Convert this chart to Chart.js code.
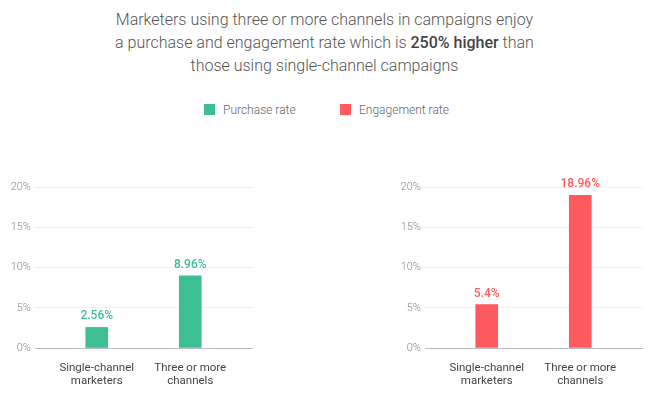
<!DOCTYPE html>
<html>
<head>
<meta charset="utf-8">
<script src="https://cdn.jsdelivr.net/npm/chart.js@4"></script>
<style>
  body { margin: 0; background: #fff; font-family: Roboto, sans-serif; }
  #wrap { position: relative; width: 649px; height: 396px; overflow: hidden; }
  #title { position: absolute; left: 0; top: 8px; width: 649px; text-align: center;
           font-size: 16px; font-weight: 300; line-height: 23px; color: #555; }
  #title b { font-weight: 500; color: #444; }
  #legend { position: absolute; top: 102px; left: 0; width: 649px; font-size: 12px;
            font-weight: 300; color: #666; }
  .item { position: absolute; top: 0; white-space: nowrap; line-height: 16px; }
  .sw { display: inline-block; width: 11px; height: 11px; vertical-align: -1px; margin-right: 8px; }
  canvas { position: absolute; }
</style>
</head>
<body>
<div id="wrap">
  <div id="title">Marketers using three or more channels in campaigns enjoy<br>a purchase and engagement rate which is <b>250% higher</b> than<br>those using single-channel campaigns</div>
  <div id="legend">
    <div class="item" style="left:204px"><span class="sw" style="background:#3dbf92"></span>Purchase rate</div>
    <div class="item" style="left:340px"><span class="sw" style="background:#ff5a5f"></span>Engagement rate</div>
  </div>
  <canvas id="purchase" style="left:0;top:160px"></canvas>
  <canvas id="engagement" style="left:390px;top:160px"></canvas>
</div>
<script>
// data
const categories = [['Single-channel', 'marketers'], ['Three or more', 'channels']];
const purchaseRate = [2.56, 8.96];
const engagementRate = [5.4, 18.96];
const yTicks = [0, 5, 10, 15, 20];

Chart.defaults.font.family = 'Roboto';
Chart.defaults.animation = false;

// value above each bar
const barLabels = {
  id: 'barLabels',
  afterDatasetsDraw(chart) {
    const ctx = chart.ctx;
    const ds = chart.data.datasets[0];
    chart.getDatasetMeta(0).data.forEach((bar, i) => {
      ctx.save();
      ctx.fillStyle = ds.backgroundColor;
      ctx.font = '500 12px Roboto';
      ctx.textAlign = 'center';
      ctx.textBaseline = 'middle';
      ctx.fillText(ds.data[i].y + '%', bar.x, bar.y - 11);
      ctx.restore();
    });
  }
};

function makeChart(id, values, color, w, padRight) {
  const el = document.getElementById(id);
  el.width = w;
  el.height = 236;
  el.style.width = w + 'px';
  el.style.height = '236px';
  return new Chart(el, {
    type: 'bar',
    data: {
      datasets: [{
        data: values.map((v, i) => ({ x: i, y: v })),
        backgroundColor: color,
        barThickness: 22
      }]
    },
    options: {
      responsive: false,
      layout: { padding: { top: 27, right: padRight, left: 0, bottom: 0 } },
      plugins: { legend: { display: false }, tooltip: { enabled: false } },
      scales: {
        x: {
          type: 'linear',
          offset: false,
          min: -0.66,
          max: 1.66,
          afterBuildTicks: s => { s.ticks = categories.map((c, i) => ({ value: i })); },
          afterFit: s => { s.height = 48; },
          grid: { display: false, drawTicks: false },
          border: { display: true, color: '#bdbdbd', width: 1 },
          ticks: {
            padding: 14,
            autoSkip: false,
            maxRotation: 0,
            color: '#444',
            font: { size: 11.5, lineHeight: 1.1 },
            callback: v => categories[v]
          }
        },
        y: {
          min: 0,
          max: 20,
          afterBuildTicks: s => { s.ticks = yTicks.map(v => ({ value: v })); },
          afterFit: s => { s.width = 35; },
          grid: { color: '#eeeeee', drawTicks: false },
          border: { display: false },
          ticks: {
            padding: 4,
            color: '#888',
            font: { size: 11, weight: '300' },
            callback: v => v + '%'
          }
        }
      }
    },
    plugins: [barLabels]
  });
}

makeChart('purchase', purchaseRate, '#3dbf92', 260, 8);
makeChart('engagement', engagementRate, '#ff5a5f', 259, 7);
</script>
</body>
</html>
